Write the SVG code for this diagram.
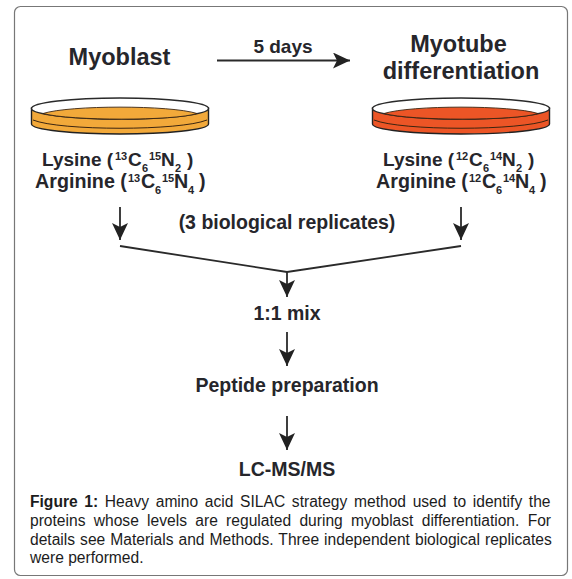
<svg xmlns="http://www.w3.org/2000/svg" width="572" height="579" viewBox="0 0 572 579">
<style>
text{font-family:"Liberation Sans",Arial,sans-serif;fill:#26262b}
.b{font-weight:700}
.t{font-size:23.5px;text-anchor:middle}
.l{font-size:19px}
.a{font-size:19.700px}
.s{font-size:11px}
.m{font-size:19.500px;text-anchor:middle}
.c{font-size:15.600px;fill:#1c1c1c}
.ln{fill:none;stroke:#2a2a2a;stroke-width:1.8}
.d{stroke:#222;stroke-width:1.4}
.rim{fill:#fff;stroke:#2a2a2a;stroke-width:1.5}
.o{fill:#f2a93a}
.r{fill:#ec5526}
.in{stroke:#3a2410;stroke-width:0.9}
.cv{fill:none;stroke:#3a2410;stroke-width:1}
</style>
<defs>
<marker id="ah" markerUnits="userSpaceOnUse" markerWidth="18" markerHeight="18" refX="17" refY="8" orient="auto"><path d="M0 0L17 8L0 16L4 8Z" fill="#222"/></marker>
</defs>
<rect x="0" y="0" width="572" height="579" fill="#fff"/>
<rect id="frame" x="14.500" y="6.500" width="553" height="569" rx="6" fill="#fff" stroke="#777" stroke-width="1.2"/>
<g id="connectors">
<path class="ln" d="M217 60.500H350" marker-end="url(#ah)"/>
<path class="ln" d="M120 207V240" marker-end="url(#ah)"/>
<path class="ln" d="M461 207V240" marker-end="url(#ah)"/>
<path class="ln" d="M120 246L287 272L461 246"/>
<path class="ln" d="M287 272V297" marker-end="url(#ah)"/>
<path class="ln" d="M287 332V366" marker-end="url(#ah)"/>
<path class="ln" d="M287 416V450" marker-end="url(#ah)"/>
</g>
<g id="myoblast">
<text class="b t" x="119.500" y="65">Myoblast</text>
<path class="d o" d="M31.500 108V124C31.500 130 75 134 120 134S208.500 130 208.500 124V108Z"/>
<ellipse class="rim" cx="120" cy="108.500" rx="88.500" ry="10.500"/>
<path class="o in" d="M43 113.500C70 105 170 105 197 113.500C175 121 70 121 43 113.500Z"/>
<path class="cv" d="M33 120C60 131 180 131 207 120"/>
</g>
<g id="myotube">
<text class="b t" x="458.500" y="52">Myotube</text>
<text class="b t" x="461" y="79">differentiation</text>
<path class="d r" d="M372.500 108V124C372.500 130 416 134 461 134S549.500 130 549.500 124V108Z"/>
<ellipse class="rim" cx="461" cy="108.500" rx="88.500" ry="10.500"/>
<path class="r in" d="M384 113.500C411 105 511 105 538 113.500C516 121 411 121 384 113.500Z"/>
<path class="cv" d="M374 120C401 131 521 131 548 120"/>
</g>
<g id="heavy-label">
<text class="b l" x="42" y="166">Lysine (</text><text class="b s" x="115" y="160">13</text><text class="b l" x="128" y="166">C</text><text class="b s" x="142" y="172">6</text><text class="b s" x="149" y="160">15</text><text class="b l" x="161" y="166">N</text><text class="b s" x="175" y="172">2</text><text class="b l" x="187" y="166">)</text>
<text class="b a" x="35" y="188">Arginine (</text><text class="b s" x="128" y="182">13</text><text class="b a" x="141" y="188">C</text><text class="b s" x="155" y="194">6</text><text class="b s" x="162" y="182">15</text><text class="b a" x="174" y="188">N</text><text class="b s" x="188" y="194">4</text><text class="b a" x="199" y="188">)</text>
</g>
<g id="light-label">
<text class="b l" x="383" y="166">Lysine (</text><text class="b s" x="456" y="160">12</text><text class="b l" x="469" y="166">C</text><text class="b s" x="483" y="172">6</text><text class="b s" x="490" y="160">14</text><text class="b l" x="502" y="166">N</text><text class="b s" x="516" y="172">2</text><text class="b l" x="528" y="166">)</text>
<text class="b a" x="376" y="188">Arginine (</text><text class="b s" x="469" y="182">12</text><text class="b a" x="482" y="188">C</text><text class="b s" x="496" y="194">6</text><text class="b s" x="503" y="182">14</text><text class="b a" x="515" y="188">N</text><text class="b s" x="529" y="194">4</text><text class="b a" x="540" y="188">)</text>
</g>
<g id="labels">
<text class="b" x="283" y="53" font-size="19" text-anchor="middle">5 days</text>
<text class="b m" x="287" y="229">(3 biological replicates)</text>
<text class="b m" x="287" y="319.500">1:1 mix</text>
<text class="b m" x="287" y="391.500">Peptide preparation</text>
<text class="b m" x="287" y="475.500">LC-MS/MS</text>
</g>
<g id="caption">
<text class="c" x="30" y="507" style="word-spacing:2.330px"><tspan class="b">Figure 1:</tspan> Heavy amino acid SILAC strategy method used to identify the</text>
<text class="c" x="30" y="526" style="word-spacing:3.950px">proteins whose levels are regulated during myoblast differentiation. For</text>
<text class="c" x="30" y="545" style="word-spacing:0.670px">details see Materials and Methods. Three independent biological replicates</text>
<text class="c" x="30" y="563">were performed.</text>
</g>
</svg>
